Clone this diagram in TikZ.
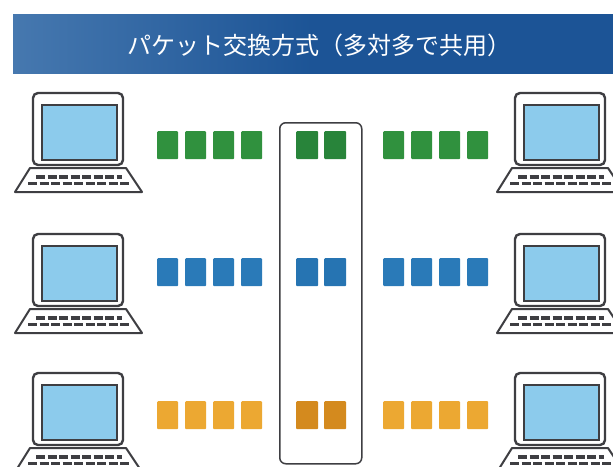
\documentclass[tikz,border=0pt]{standalone}
\usepackage{fontspec}
\newfontfamily\jpfont{Noto Sans CJK JP}
\begin{document}
\definecolor{barblue}{RGB}{28,84,150}
\definecolor{barlight}{RGB}{70,120,175}
\definecolor{screenblue}{RGB}{140,203,236}
\definecolor{outline}{RGB}{62,62,66}
\definecolor{pgreen}{RGB}{48,145,62}
\definecolor{pgreendark}{RGB}{40,132,58}
\definecolor{pblue}{RGB}{42,122,184}
\definecolor{pbluedark}{RGB}{38,116,178}
\definecolor{porange}{RGB}{236,168,50}
\definecolor{porangedark}{RGB}{212,138,30}
\begin{tikzpicture}[x=1pt,y=-1pt,
  packet/.style={rectangle,minimum width=21pt,minimum height=28pt,inner sep=0pt,rounded corners=1pt,anchor=north west},
  midpacket/.style={packet,minimum width=22pt},
  laptop/.pic={
    % lid with screen
    \draw[outline,line width=2.4pt,fill=white,rounded corners=5pt] (0,0) rectangle (90,72);
    \draw[outline,line width=2pt,fill=screenblue] (9,12) rectangle (84,67);
    % keyboard base
    \draw[outline,line width=2pt,fill=white,line join=round] (-3,75) -- (93,75) -- (109,99) -- (-18,99) -- cycle;
    \draw[outline,line width=3.6pt,dash pattern=on 9pt off 2.5pt] (3,84) -- (89,84);
    \draw[outline,line width=3.6pt,dash pattern=on 9pt off 2.5pt] (-5,90.5) -- (97,90.5);
  }]
\useasboundingbox (0,0) rectangle (613,466);
\fill[white] (0,0) rectangle (613,466);

% title bar
\shade[left color=barlight,right color=barblue,middle color=barblue] (13,14) rectangle (613,73);
\node[text=white,font=\jpfont\fontsize{24}{27}\selectfont] (title) at (319,45) {パケット交換方式（多対多で共用）};

% shared line
\node[draw=outline,line width=1.5pt,rounded corners=6pt,minimum width=82pt,minimum height=341pt,anchor=north west,inner sep=0pt] (line) at (279,122) {};

% terminals
\foreach \n/\y in {1/93,2/234,3/373}{
  \pic (left\n) at (33,\y) {laptop};
  \pic (right\n) at (515,\y) {laptop};
}

% packets
\foreach \row/\y/\c/\cm in {g/131/pgreen/pgreendark,b/258/pblue/pbluedark,o/401/porange/porangedark}{
  \foreach \i/\x in {1/157,2/185,3/213,4/241}{
    \node[packet,fill=\c] (\row l\i) at (\x,\y) {};
  }
  \foreach \i/\x in {1/383,2/411,3/439,4/467}{
    \node[packet,fill=\c] (\row r\i) at (\x,\y) {};
  }
  \node[midpacket,fill=\cm] (\row m1) at (296,\y) {};
  \node[midpacket,fill=\cm] (\row m2) at (324,\y) {};
}
\end{tikzpicture}
\end{document}
